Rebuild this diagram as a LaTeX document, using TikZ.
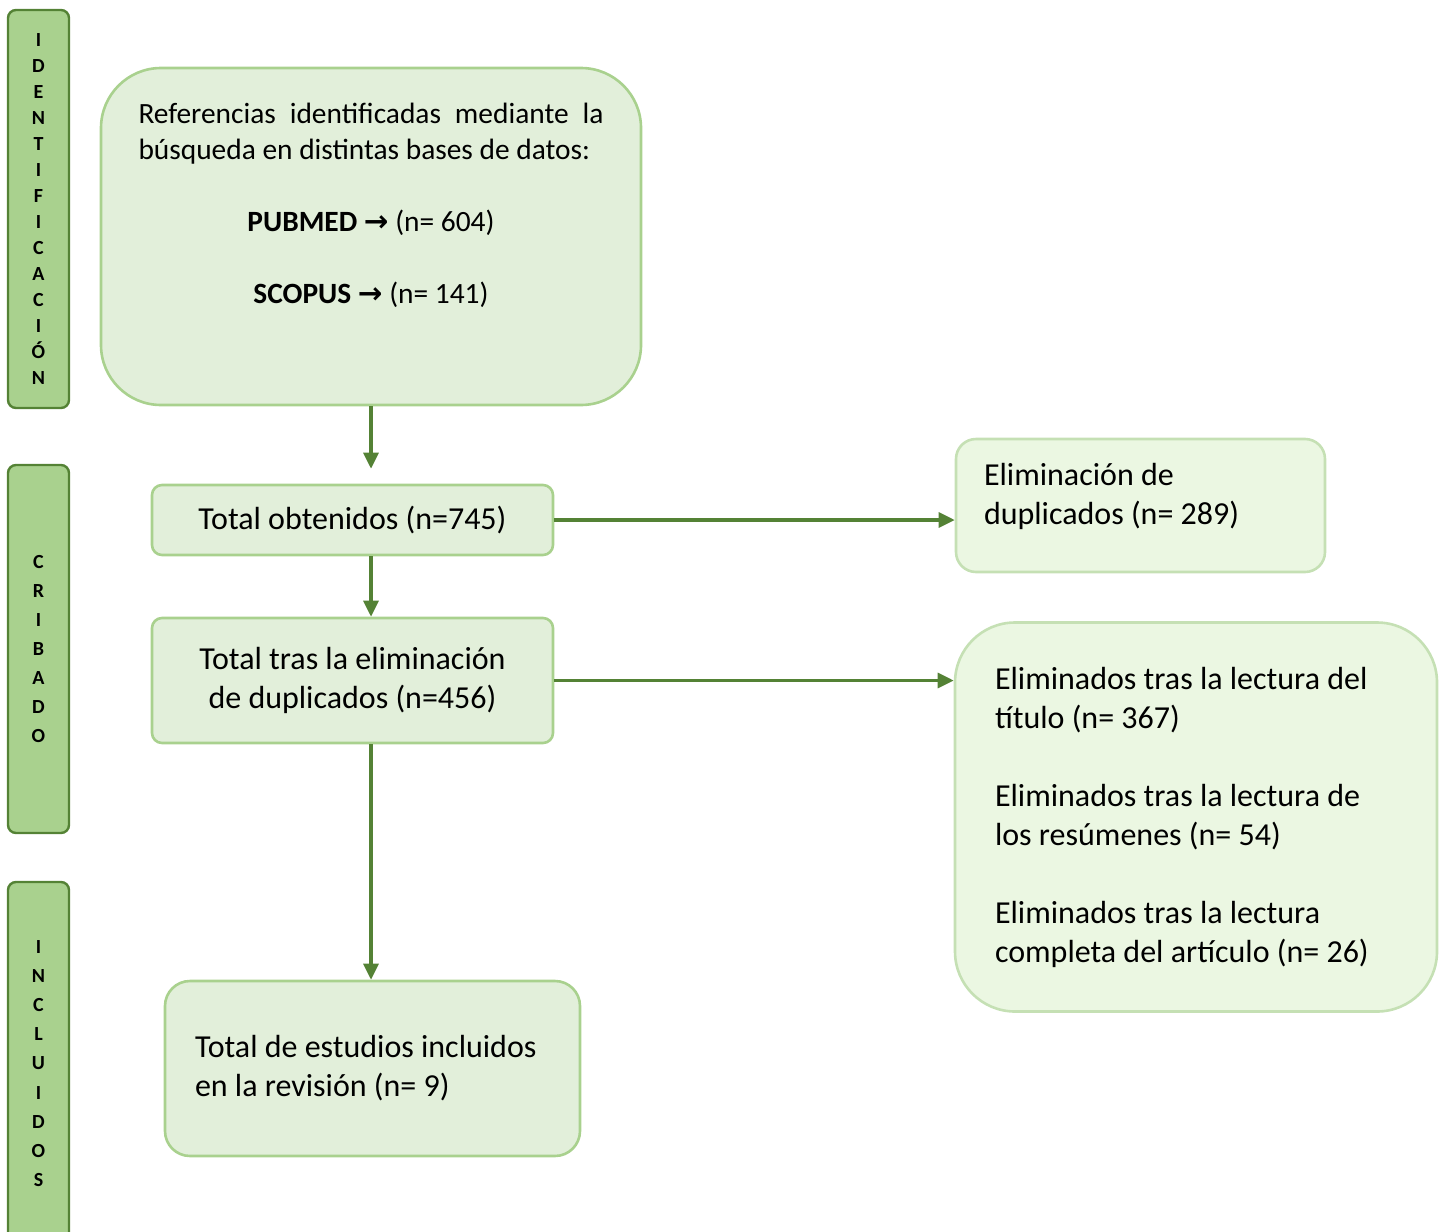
\documentclass[tikz,border=0pt]{standalone}
\usepackage{fontspec}
\setmainfont{Carlito}
\newfontfamily\arrowfont{DejaVu Sans}
\usepackage{xcolor}
\usetikzlibrary{arrows.meta}

\definecolor{phasefill}{HTML}{A9D18E}
\definecolor{darkgreen}{HTML}{548235}
\definecolor{boxfill}{HTML}{E2EFDA}
\definecolor{boxline}{HTML}{A9D18E}
\definecolor{sidefill}{HTML}{EBF7E2}
\definecolor{sideline}{HTML}{C5E0B4}

\begin{document}
\begin{tikzpicture}[
    x=0.5pt, y=-0.5pt,
    phase/.style={draw=darkgreen, fill=phasefill, line width=1.2pt, rounded corners=4pt, minimum width=30.5pt, inner sep=0pt, align=center},
    block/.style={draw=boxline, fill=boxfill, line width=1.3pt, inner sep=0pt, font=\fontsize{16}{19.5}\selectfont},
    sideblock/.style={block, draw=sideline, fill=sidefill},
    line/.style={draw=darkgreen, line width=1.6pt, -{Triangle[length=8pt,width=7.5pt]}}
]
\useasboundingbox (0,0) rectangle (1445,1231);

% Phase bars on the left edge.
\node[phase, minimum height=199pt, font=\fontsize{10}{13}\selectfont\bfseries] (ident) at (38.5,209) {I\\D\\E\\N\\T\\I\\F\\I\\C\\A\\C\\I\\Ó\\N};
\node[phase, minimum height=184pt, font=\fontsize{10}{14.5}\selectfont\bfseries] (cribado) at (38.5,649) {C\\R\\I\\B\\A\\D\\O};
\node[phase, minimum height=181.5pt, font=\fontsize{10}{14.6}\selectfont\bfseries] (incluidos) at (38.5,1063.5) {I\\N\\C\\L\\U\\I\\D\\O\\S};

% Main column.
\node[block, rounded corners=30pt, minimum width=270pt, minimum height=168.5pt, text width=232.5pt, align=flush left, font=\fontsize{14.7}{18}\selectfont] (busq) at (371,236.5) {\makebox[232.5pt][s]{Referencias identificadas mediante la}\\
búsqueda en distintas bases de datos:\\[18pt]
\makebox[232.5pt]{\textbf{PUBMED} {\arrowfont\bfseries →} (n= 604)}\\[18pt]
\makebox[232.5pt]{\textbf{SCOPUS} {\arrowfont\bfseries →} (n= 141)}\\[15pt]
\mbox{}};
\node[block, rounded corners=5pt, minimum width=200.5pt, minimum height=35pt] (total) at (352.5,520) {Total obtenidos (n=745)};
\node[block, rounded corners=5pt, minimum width=200.5pt, minimum height=62.5pt, align=center] (tras) at (352.5,680.5) {Total tras la eliminación\\de duplicados (n=456)};
\node[block, rounded corners=12.5pt, minimum width=207.5pt, minimum height=87.5pt, inner xsep=15pt, text width=177.5pt, align=flush left] (incl) at (372.5,1068.5) {Total de estudios incluidos\\en la revisión (n= 9)};

% Excluded records on the right.
\node[sideblock, rounded corners=10pt, minimum width=184.5pt, minimum height=66.5pt, inner xsep=14pt, text width=156.5pt, align=flush left] (duplic) at (1140.5,505.5) {Eliminación de\\duplicados (n= 289)\\[-8pt]\mbox{}};
\node[sideblock, rounded corners=30pt, minimum width=241pt, minimum height=194.5pt, inner xsep=20pt, text width=201pt, align=flush left] (elim) at (1196,817) {Eliminados tras la lectura del\\título (n= 367)\\[19.5pt]Eliminados tras la lectura de\\los resúmenes (n= 54)\\[19.5pt]Eliminados tras la lectura\\completa del artículo (n= 26)};

% Arrows.
\draw[line, shorten >=7.5pt] (busq.south) -- (busq.south |- total.north);
\draw[line] (busq.south |- total.south) -- (busq.south |- tras.north);
\draw[line] (busq.south |- tras.south) -- (busq.south |- incl.north);
\draw[line] (total.east) -- (total.east -| duplic.west);
\draw[line] (tras.east) -- (tras.east -| elim.west);

\end{tikzpicture}
\end{document}
